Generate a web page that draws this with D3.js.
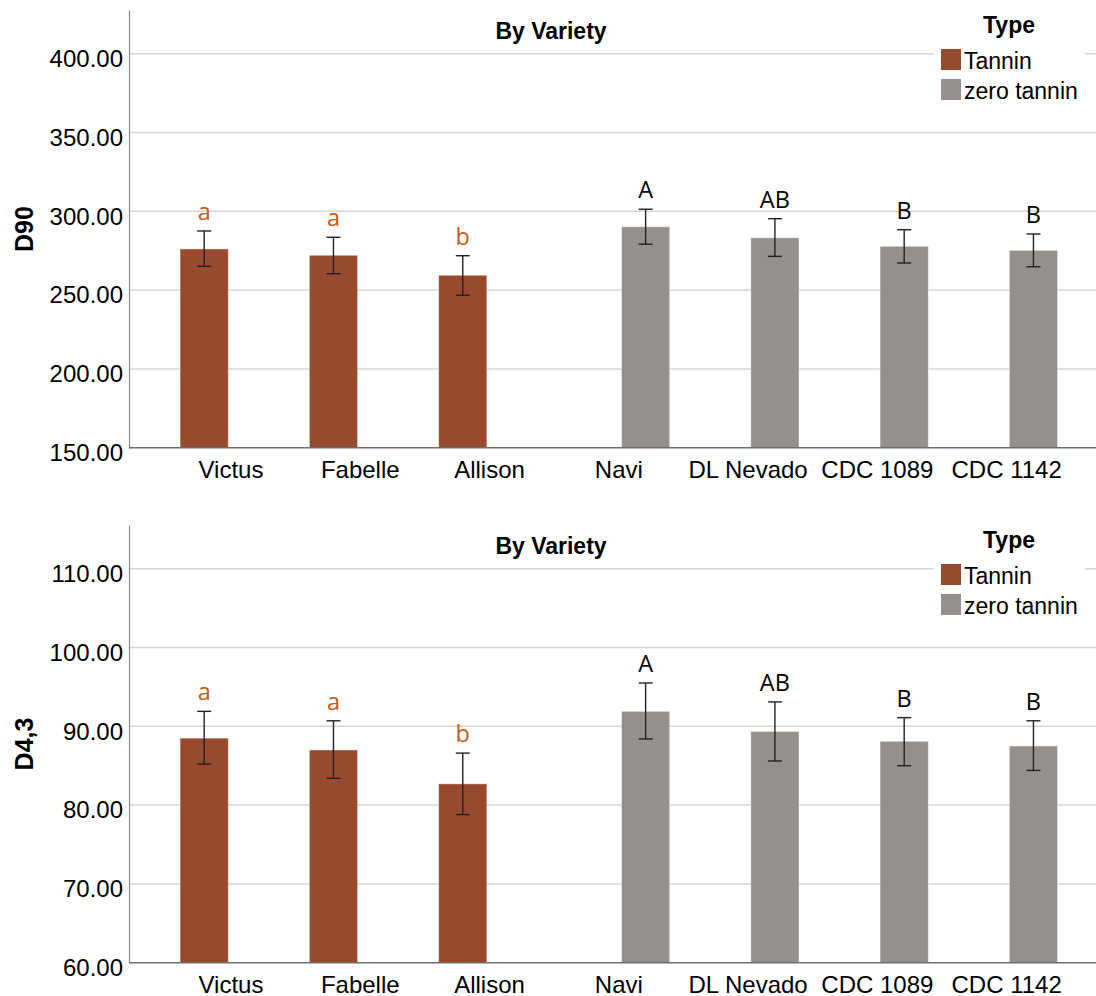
<!DOCTYPE html>
<html>
<head>
<meta charset="utf-8">
<script src="https://cdn.jsdelivr.net/npm/d3@7"></script>
<style>
  body { margin: 0; background: #fff; }
  svg text { font-family: "Liberation Sans", Arial, sans-serif; }
</style>
</head>
<body>
<script>
// data
var varieties = ["Victus", "Fabelle", "Allison", "Navi", "DL Nevado", "CDC 1089", "CDC 1142"];
var varietyType = ["Tannin", "Tannin", "Tannin", "zero tannin", "zero tannin", "zero tannin", "zero tannin"];
var typeNames = ["Tannin", "zero tannin"];
var letters = ["a", "a", "b", "A", "AB", "B", "B"];

var d90Mean = [276.1, 272.1, 259.4, 290.2, 283.2, 277.8, 275.2];
var d90Low  = [265.1, 260.4, 246.7, 279.1, 271.4, 267.2, 264.8];
var d90High = [287.5, 283.5, 271.8, 301.3, 295.3, 288.3, 285.6];
var d90Ticks = [150, 200, 250, 300, 350, 400];

var d43Mean = [88.5, 87.0, 82.7, 91.9, 89.35, 88.1, 87.5];
var d43Low  = [85.2, 83.4, 78.8, 88.4, 85.6, 85.0, 84.4];
var d43High = [91.9, 90.7, 86.6, 95.5, 93.1, 91.1, 90.7];
var d43Ticks = [60, 70, 80, 90, 100, 110];

var colors = {"Tannin": "#984a2f", "zero tannin": "#95908e"};
var letterColors = {"Tannin": "#c55a11", "zero tannin": "#000"};

var W = 1096, H = 996;
var svg = d3.select("body").append("svg").attr("width", W).attr("height", H);

var axisX = 129, plotRight = 1100;
var x = d3.scaleBand().domain(varieties).range([166.35, 1071.3]);
var xSub = d3.scaleBand().domain(typeNames)
  .range([x.bandwidth() / 2 - 53.6, x.bandwidth() / 2 + 53.6])
  .paddingInner(0.1).paddingOuter(0.05);

function drawPanel(top, means, lows, highs, ticks, yMax, yTitle) {
  var g = svg.append("g").attr("transform", "translate(0," + top + ")");
  var y = d3.scaleLinear().domain([ticks[0], yMax]).range([447.7, 10]);

  // gridlines
  g.selectAll("line.grid").data(ticks.slice(1)).enter().append("line")
    .attr("x1", axisX).attr("x2", plotRight)
    .attr("y1", function(d) { return y(d); }).attr("y2", function(d) { return y(d); })
    .attr("stroke", "#d6d6d6").attr("stroke-width", 1.5);

  // y axis
  var yAxis = d3.axisLeft(y).tickValues(ticks).tickSize(0).tickPadding(6)
    .tickFormat(d3.format(".2f"));
  var ya = g.append("g").attr("transform", "translate(" + axisX + ",0)").call(yAxis);
  ya.select(".domain").attr("stroke", "#8a8a8a").attr("stroke-width", 1.2);
  ya.selectAll("text").attr("font-size", 24).attr("fill", "#000").attr("dy", "0.53em");

  // bars
  var rows = varieties.map(function(v, i) {
    return {v: v, t: varietyType[i], m: means[i], lo: lows[i], hi: highs[i], l: letters[i]};
  });
  var bars = g.selectAll("g.bar").data(rows).enter().append("g").attr("class", "bar")
    .attr("transform", function(d) { return "translate(" + x(d.v) + ",0)"; });
  bars.append("rect")
    .attr("x", function(d) { return xSub(d.t); })
    .attr("width", xSub.bandwidth())
    .attr("y", function(d) { return y(d.m); })
    .attr("height", function(d) { return y(ticks[0]) - y(d.m); })
    .attr("fill", function(d) { return colors[d.t]; })
    .attr("stroke", "#fff").attr("stroke-opacity", 0.45).attr("stroke-width", 1);

  // error bars
  var cx = function(d) { return xSub(d.t) + xSub.bandwidth() / 2; };
  bars.append("line")
    .attr("x1", cx).attr("x2", cx)
    .attr("y1", function(d) { return y(d.lo); }).attr("y2", function(d) { return y(d.hi); })
    .attr("stroke", "#222").attr("stroke-width", 1.4);
  ["lo", "hi"].forEach(function(k) {
    bars.append("line")
      .attr("x1", function(d) { return cx(d) - 7; }).attr("x2", function(d) { return cx(d) + 7; })
      .attr("y1", function(d) { return y(d[k]); }).attr("y2", function(d) { return y(d[k]); })
      .attr("stroke", "#222").attr("stroke-width", 1.4);
  });

  // significance letters
  bars.append("text")
    .attr("x", cx)
    .attr("y", function(d) { return y(d.hi) - 11; })
    .attr("text-anchor", "middle")
    .style("font-family", "'Open Sans', sans-serif")
    .attr("font-size", 23.5)
    .attr("fill", function(d) { return letterColors[d.t]; })
    .text(function(d) { return d.l; });

  // x axis
  var xAxis = d3.axisBottom(x).tickSize(0).tickPadding(13);
  var xa = g.append("g").attr("transform", "translate(0," + y(ticks[0]) + ")").call(xAxis);
  xa.select(".domain").remove();
  xa.selectAll("text").attr("font-size", 24).attr("fill", "#000").attr("dy", "0.71em");
  g.append("line").attr("x1", axisX).attr("x2", plotRight)
    .attr("y1", y(ticks[0])).attr("y2", y(ticks[0]))
    .attr("stroke", "#6e6e6e").attr("stroke-width", 1.4);

  // title
  g.append("text").attr("x", 551).attr("y", 38.5).attr("text-anchor", "middle")
    .attr("font-size", 23).attr("font-weight", "bold").text("By Variety");

  // y title
  g.append("text").attr("transform", "translate(33,229) rotate(-90)")
    .attr("text-anchor", "middle").attr("font-size", 25).attr("font-weight", "bold")
    .text(yTitle);

  // legend
  var lg = g.append("g");
  lg.append("rect").attr("x", 934).attr("y", 42).attr("width", 151).attr("height", 64).attr("fill", "#fff");
  lg.append("text").attr("x", 1009).attr("y", 33).attr("text-anchor", "middle")
    .attr("font-size", 23).attr("font-weight", "bold").text("Type");
  var items = lg.selectAll("g.item").data(typeNames).enter().append("g")
    .attr("transform", function(d, i) { return "translate(941," + (49 + i * 30) + ")"; });
  items.append("rect").attr("width", 20).attr("height", 21)
    .attr("fill", function(d) { return colors[d]; });
  items.append("text").attr("x", 23).attr("y", 20).attr("font-size", 23).text(function(d) { return d; });
}

drawPanel(0, d90Mean, d90Low, d90High, d90Ticks, 427.7, "D90");
drawPanel(515, d43Mean, d43Low, d43High, d43Ticks, 115.55, "D4,3");
</script>
</body>
</html>
